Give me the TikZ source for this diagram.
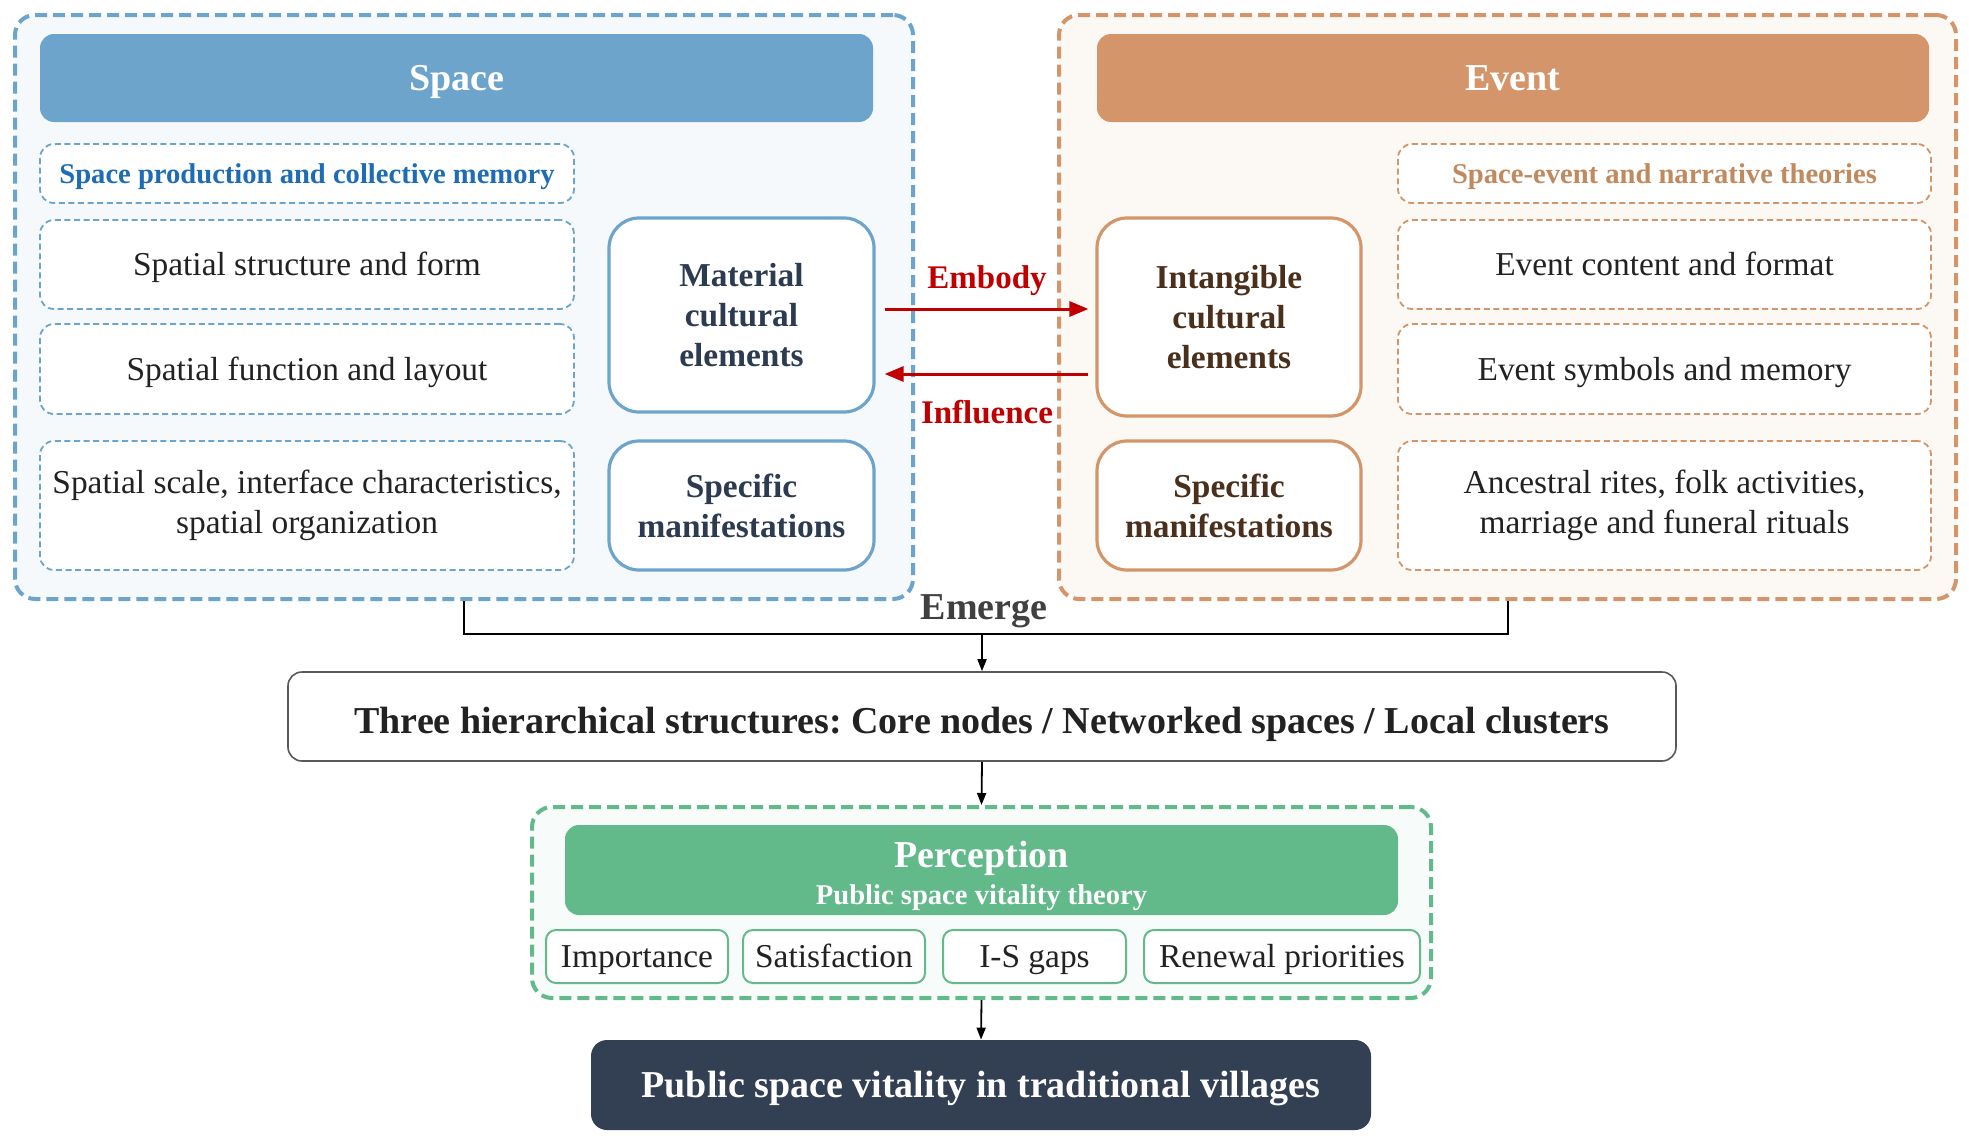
\documentclass[tikz,border=0pt]{standalone}
\usepackage{fontspec}
\setmainfont{Liberation Serif}
\usetikzlibrary{arrows.meta,positioning}
\definecolor{spaceblue}{HTML}{6CA4CC}
\definecolor{spacebg}{HTML}{F6F9FC}
\definecolor{spacetxt}{HTML}{1E6CB3}
\definecolor{eventorange}{HTML}{D4956A}
\definecolor{eventbg}{HTML}{FCF9F5}
\definecolor{eventtxt}{HTML}{C0895E}
\definecolor{percgreen}{HTML}{62B98A}
\definecolor{percbg}{HTML}{F7FBF9}
\definecolor{navy}{HTML}{2C3B50}
\definecolor{brown}{HTML}{4A2F1C}
\definecolor{darkbox}{HTML}{333F52}
\definecolor{arrowred}{HTML}{C00000}
\definecolor{textdark}{HTML}{222222}
\frenchspacing

\begin{document}
\begin{tikzpicture}[x=0.5pt, y=-0.5pt,
    line1/.style 2 args={text height=#1, text depth=#2},
    outer/.style={draw, dash pattern=on 6pt off 3pt, rounded corners=10pt, line width=2pt, inner sep=0pt},
    head/.style={line1={17.1pt}{4.6pt}, rounded corners=7pt, text=white, font=\fontsize{19}{22}\selectfont\bfseries},
    item/.style={draw, dash pattern=on 3pt off 1.8pt, rounded corners=7pt, fill=white, line width=0.9pt, align=center, text=textdark, font=\fontsize{16.7}{20}\selectfont},
    single/.style={line1={15pt}{4pt}},
    theory/.style={item, line1={12.9pt}{3.4pt}, font=\fontsize{14.3}{17}\selectfont\bfseries},
    core/.style={draw, rounded corners=15pt, fill=white, line width=1.6pt, align=center, font=\fontsize{16.7}{20}\selectfont\bfseries},
    metric/.style={line1={15pt}{4pt}, draw=percgreen, rounded corners=5pt, fill=white, line width=1pt, minimum height=26.5pt, text=textdark, font=\fontsize{16.7}{20}\selectfont},
    arrow/.style={-{Triangle[length=6pt,width=4.5pt]}, line width=0.9pt},
    redarrow/.style={-{Triangle[length=9.5pt,width=7.5pt]}, line width=1.5pt, arrowred},
    tag/.style={line1={14.9pt}{4pt}, font=\fontsize{16.5}{20}\selectfont\bfseries, text=arrowred}
]
    \fill[white] (0,0) rectangle (1969,1140);
    \useasboundingbox (0,0) rectangle (1969,1140);

    % 空间
    \node[outer, draw=spaceblue, fill=spacebg, minimum width=449pt, minimum height=292pt] (spaceOuter) at (464,307) {};
    \node[head, fill=spaceblue, minimum width=416.5pt, minimum height=44pt] (spaceHead) at (456.5,78) {Space};
    \node[theory, draw=spaceblue, text=spacetxt, minimum width=267pt, minimum height=29.5pt] (spaceTheory) at (307,173.5) {Space production and collective memory};
    \node[item, single, draw=spaceblue, minimum width=267pt, minimum height=44.5pt] (spaceForm) at (307,264.5) {Spatial structure and form};
    \node[item, single, draw=spaceblue, minimum width=267pt, minimum height=45pt] (spaceLayout) at (307,369) {Spatial function and layout};
    \node[item, draw=spaceblue, minimum width=267pt, minimum height=64.5pt] (spaceScale) at (307,505.5) {Spatial scale, interface characteristics,\\spatial organization};
    \node[core, draw=spaceblue, text=navy, minimum width=132.5pt, minimum height=97pt] (material) at (741.5,315) {Material\\cultural\\elements};
    \node[core, draw=spaceblue, text=navy, minimum width=132.5pt, minimum height=64.5pt] (spaceSpec) at (741.5,505.5) {Specific\\manifestations};

    % 事件
    \node[outer, draw=eventorange, fill=eventbg, minimum width=448.5pt, minimum height=292pt] (eventOuter) at (1507.5,307) {};
    \node[head, fill=eventorange, minimum width=416pt, minimum height=44pt] (eventHead) at (1513,78) {Event};
    \node[theory, draw=eventorange, text=eventtxt, minimum width=266.5pt, minimum height=29.5pt] (eventTheory) at (1664.5,173.5) {Space-event and narrative theories};
    \node[item, single, draw=eventorange, minimum width=266.5pt, minimum height=44.5pt] (eventForm) at (1664.5,264.5) {Event content and format};
    \node[item, single, draw=eventorange, minimum width=266.5pt, minimum height=45pt] (eventMemory) at (1664.5,369) {Event symbols and memory};
    \node[item, draw=eventorange, minimum width=266.5pt, minimum height=64.5pt] (eventRites) at (1664.5,505.5) {Ancestral rites, folk activities,\\marriage and funeral rituals};
    \node[core, draw=eventorange, text=brown, minimum width=132pt, minimum height=99pt] (intangible) at (1229,317) {Intangible\\cultural\\elements};
    \node[core, draw=eventorange, text=brown, minimum width=132pt, minimum height=64.5pt] (eventSpec) at (1229,505.5) {Specific\\manifestations};

    % 相互作用
    \draw[redarrow] ([xshift=4.5pt,yshift=3pt]material.east) -- ([xshift=-3.5pt,yshift=4pt]intangible.west);
    \draw[redarrow] ([xshift=-3.5pt,yshift=-28.5pt]intangible.west) -- ([xshift=4.5pt,yshift=-29.5pt]material.east);
    \node[tag] (embody) at (987,278) {Embody};
    \node[tag] (influence) at (987,413) {Influence};

    % 层级结构
    \node[line1={17.1pt}{4.6pt}, font=\fontsize{19}{22}\selectfont\bfseries, text=black!75] (emerge) at (984,607) {Emerge};
    \coordinate (join) at (982,634);
    \draw[line width=1pt] (spaceOuter.south) |- (join) -| (eventOuter.south);
    \node[draw=black!65, rounded corners=7pt, fill=white, line width=0.8pt, minimum width=694pt, minimum height=44.5pt, line1={18pt}{1.2pt}, text=textdark, font=\fontsize{19}{22}\selectfont\bfseries] (three) at (982,716.5) {Three hierarchical structures: Core nodes / Networked spaces / Local clusters};
    \draw[arrow] (join) -- (three.north);

    % 感知
    \node[outer, draw=percgreen, fill=percbg, minimum width=449.5pt, minimum height=95.5pt] (percOuter) at (981.5,902.5) {};
    \node[head, fill=percgreen, minimum width=416.5pt, minimum height=45pt] (percHead) at (981.5,870) {};
    \node[line1={17.1pt}{4.6pt}, text=white, font=\fontsize{19}{22}\selectfont\bfseries] (percTitle) at (981.5,855) {Perception};
    \node[line1={12.9pt}{3.4pt}, text=white, font=\fontsize{14.3}{17}\selectfont\bfseries] (percSub) at (981.5,895) {Public space vitality theory};
    \node[metric, minimum width=91pt] (importance) at (637,956.5) {Importance};
    \node[metric, minimum width=91pt] (satisfaction) at (834,956.5) {Satisfaction};
    \node[metric, minimum width=91.5pt] (gaps) at (1034.5,956.5) {I-S gaps};
    \node[metric, minimum width=138pt] (renewal) at (1282,956.5) {Renewal priorities};
    \draw[arrow] (three.south) -- (percOuter.north);

    % 结果
    \node[line1={17.1pt}{4.6pt}, fill=darkbox, rounded corners=8pt, minimum width=390pt, minimum height=45pt, text=white, font=\fontsize{19}{22}\selectfont\bfseries] (vitality) at (981,1085) {Public space vitality in traditional villages};
    \draw[arrow] (percOuter.south) -- (vitality.north);
\end{tikzpicture}
\end{document}
